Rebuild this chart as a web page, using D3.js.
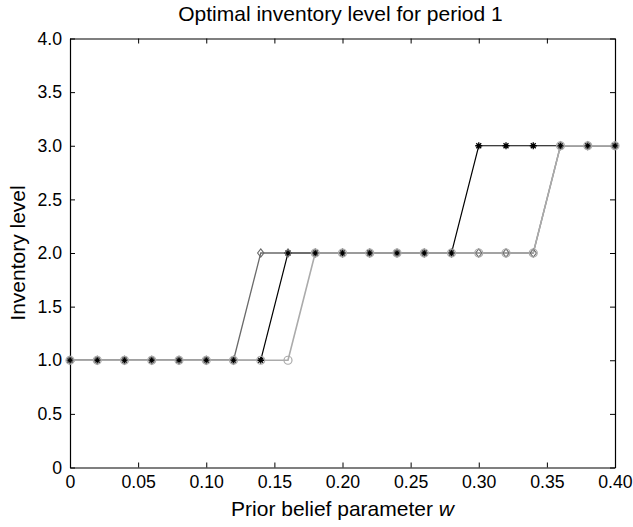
<!DOCTYPE html>
<html>
<head>
<meta charset="utf-8">
<script src="https://cdn.jsdelivr.net/npm/d3@7"></script>
<style>
  html, body { margin: 0; padding: 0; background: #fff; }
  text { font-family: "Liberation Sans", Arial, Helvetica, sans-serif; }
</style>
</head>
<body>
<svg id="chart" width="633" height="527"></svg>
<script>
// ---- data ----
const wValues = [0, 0.02, 0.04, 0.06, 0.08, 0.10, 0.12, 0.14, 0.16, 0.18, 0.20,
                 0.22, 0.24, 0.26, 0.28, 0.30, 0.32, 0.34, 0.36, 0.38, 0.40];
const seriesAsterisk = [1, 1, 1, 1, 1, 1, 1, 1, 2, 2, 2, 2, 2, 2, 2, 3, 3, 3, 3, 3, 3];
const seriesDiamond  = [1, 1, 1, 1, 1, 1, 1, 2, 2, 2, 2, 2, 2, 2, 2, 2, 2, 2, 3, 3, 3];
const seriesCircle   = [1, 1, 1, 1, 1, 1, 1, 1, 1, 2, 2, 2, 2, 2, 2, 2, 2, 2, 3, 3, 3];
const xTickValues = [0, 0.05, 0.10, 0.15, 0.20, 0.25, 0.30, 0.35, 0.40];
const xTickLabels = ["0", "0.05", "0.10", "0.15", "0.20", "0.25", "0.30", "0.35", "0.40"];
const yTickValues = [0, 0.5, 1.0, 1.5, 2.0, 2.5, 3.0, 3.5, 4.0];
const yTickLabels = ["0", "0.5", "1.0", "1.5", "2.0", "2.5", "3.0", "3.5", "4.0"];
const titleText = "Optimal inventory level for period 1";
const yLabelText = "Inventory level";

// ---- layout ----
const svg = d3.select("#chart");
const mLeft = 70, mRight = 615, mTop = 38.5, mBottom = 467.5;
const x = d3.scaleLinear().domain([0, 0.40]).range([mLeft, mRight]);
const y = d3.scaleLinear().domain([0, 4]).range([mBottom, mTop]);
const tickFont = 17.7;
const labelFont = 21;
const tickLen = 5;

const fmtX = (d, i) => xTickLabels[i];
const fmtY = (d, i) => yTickLabels[i];

const gx = svg.append("g").attr("transform", `translate(0,${mBottom})`)
  .call(d3.axisBottom(x).tickValues(xTickValues).tickFormat(fmtX)
    .tickSizeInner(-tickLen).tickSizeOuter(0).tickPadding(tickLen + 3));
const gxTop = svg.append("g").attr("transform", `translate(0,${mTop})`)
  .call(d3.axisTop(x).tickValues(xTickValues).tickFormat("")
    .tickSizeInner(-tickLen).tickSizeOuter(0));
const gy = svg.append("g").attr("transform", `translate(${mLeft},0)`)
  .call(d3.axisLeft(y).tickValues(yTickValues).tickFormat(fmtY)
    .tickSizeInner(-tickLen).tickSizeOuter(0).tickPadding(tickLen + 3));
const gyRight = svg.append("g").attr("transform", `translate(${mRight},0)`)
  .call(d3.axisRight(y).tickValues(yTickValues).tickFormat("")
    .tickSizeInner(-tickLen).tickSizeOuter(0));

[gx, gxTop, gy, gyRight].forEach(g => {
  g.select(".domain").attr("stroke", "#000").attr("stroke-width", 1.2);
  g.selectAll(".tick line").attr("stroke", "#000").attr("stroke-width", 1);
  g.selectAll(".tick text").attr("fill", "#000")
    .style("font-size", tickFont + "px")
    .style("font-family", '"Liberation Sans", Arial, sans-serif');
});

// ---- series ----
const line = d3.line().x(d => x(d[0])).y(d => y(d[1]));
const series = [
  { values: seriesAsterisk, color: "#000000", width: 1.2, marker: "asterisk" },
  { values: seriesDiamond,  color: "#6a6a6a", width: 1.3, marker: "diamond" },
  { values: seriesCircle,   color: "#ababab", width: 1.6, marker: "circle" }
];

const plot = svg.append("g");
series.forEach(s => {
  const pts = wValues.map((w, i) => [w, s.values[i]]);
  plot.append("path").datum(pts)
    .attr("d", line).attr("fill", "none")
    .attr("stroke", s.color).attr("stroke-width", s.width);
});

series.forEach(s => {
  const pts = wValues.map((w, i) => [w, s.values[i]]);
  const g = plot.append("g");
  pts.forEach(p => {
    const cx = x(p[0]), cy = y(p[1]);
    if (s.marker === "circle") {
      g.append("circle").attr("cx", cx).attr("cy", cy).attr("r", 4)
        .attr("fill", "none").attr("stroke", s.color).attr("stroke-width", 1.2);
    } else if (s.marker === "diamond") {
      const r = 4.2;
      g.append("path")
        .attr("d", `M${cx},${cy - r}L${cx + r * 0.75},${cy}L${cx},${cy + r}L${cx - r * 0.75},${cy}Z`)
        .attr("fill", "none").attr("stroke", s.color).attr("stroke-width", 1.1);
    } else {
      const r = 3.5;
      let d = "";
      for (let k = 0; k < 4; k++) {
        const a = k * Math.PI / 4;
        d += `M${cx - r * Math.cos(a)},${cy - r * Math.sin(a)}L${cx + r * Math.cos(a)},${cy + r * Math.sin(a)}`;
      }
      g.append("path").attr("d", d).attr("stroke", s.color).attr("stroke-width", 1.3);
    }
  });
});

// ---- text ----
svg.append("text").attr("x", (mLeft + mRight) / 2 - 2).attr("y", 21)
  .attr("text-anchor", "middle").style("font-size", labelFont + "px").attr("fill", "#000")
  .text(titleText);

const xl = svg.append("text").attr("x", (mLeft + mRight) / 2).attr("y", 516)
  .attr("text-anchor", "middle").style("font-size", labelFont + "px").attr("fill", "#000");
xl.append("tspan").text("Prior belief parameter ");
xl.append("tspan").style("font-style", "italic").text("w");

svg.append("text")
  .attr("transform", `translate(25,${(mTop + mBottom) / 2}) rotate(-90)`)
  .attr("text-anchor", "middle").style("font-size", labelFont + "px").attr("fill", "#000")
  .text(yLabelText);
</script>
</body>
</html>
